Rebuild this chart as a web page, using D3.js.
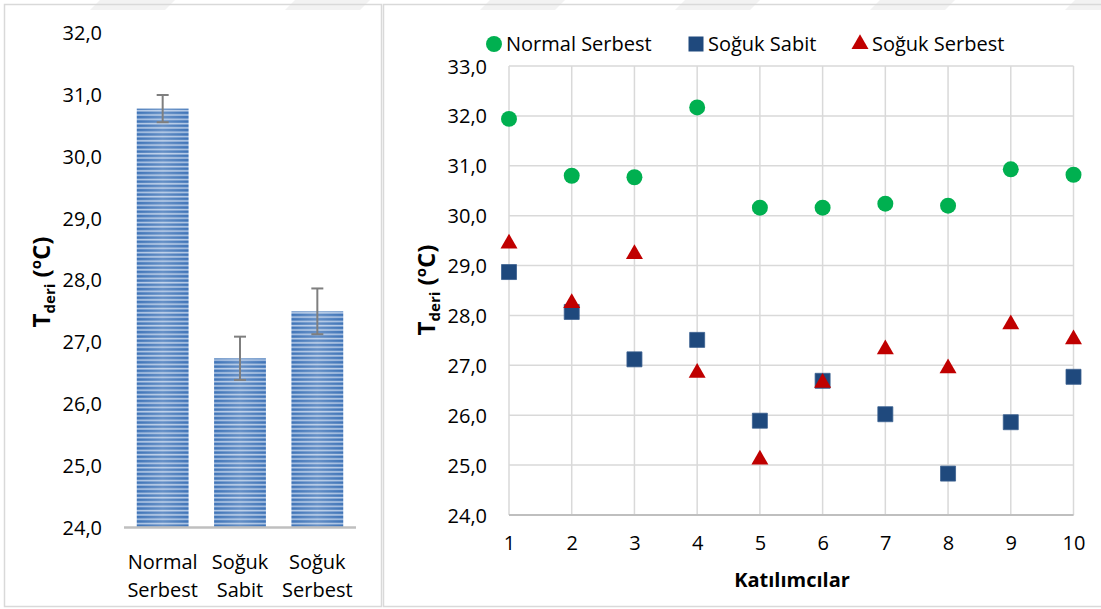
<!DOCTYPE html>
<html>
<head>
<meta charset="utf-8">
<script src="https://cdn.jsdelivr.net/npm/d3@7"></script>
<style>
  body { margin: 0; background: #fff; }
  svg { font-family: 'Open Sans', sans-serif; }
  .tick text { font-size: 20px; fill: #000; font-family: 'Open Sans', sans-serif; }
</style>
</head>
<body>
<script>
const [W, H] = [1101, 609];

// left panel: mean of each condition with error bars
const conditions = ['Normal Serbest', 'Soğuk Sabit', 'Soğuk Serbest'];
const condLines = [['Normal', 'Serbest'], ['Soğuk', 'Sabit'], ['Soğuk', 'Serbest']];
const means = [30.77, 26.73, 27.49];
const errors = [0.22, 0.35, 0.37];
const barTicks = [24, 25, 26, 27, 28, 29, 30, 31, 32];

// right panel: each participant
const participants = [1, 2, 3, 4, 5, 6, 7, 8, 9, 10];
const normalSerbest = [31.94, 30.80, 30.77, 32.17, 30.16, 30.16, 30.24, 30.20, 30.93, 30.82];
const sogukSabit = [28.87, 28.07, 27.12, 27.51, 25.89, 26.69, 26.02, 24.83, 25.86, 26.77];
const sogukSerbest = [29.44, 28.25, 29.23, 26.85, 25.11, 26.65, 27.32, 26.94, 27.82, 27.52];
const scatterTicks = [24, 25, 26, 27, 28, 29, 30, 31, 32, 33];

const fmt = d => d.toFixed(1).replace('.', ',');

const svg = d3.select('body').append('svg').attr('width', W).attr('height', H);

// faint watermark shapes along the top
svg.append('g').selectAll('path')
  .data(d3.range(0, 1101, 195))
  .enter().append('path')
  .attr('d', d => `M${d + 100},0 L${d + 175},0 L${d + 165},10 L${d + 90},10 Z`)
  .attr('fill', '#f2f2f2');

// panel borders
svg.append('rect').attr('x', 4.5).attr('y', 4.5).attr('width', 377).attr('height', 602)
  .attr('fill', 'none').attr('stroke', '#d9d9d9').attr('stroke-width', 1.5);
svg.append('rect').attr('x', 383.5).attr('y', 4.5).attr('width', 730).attr('height', 602)
  .attr('fill', 'none').attr('stroke', '#d9d9d9').attr('stroke-width', 1.5);

// stripe pattern for the bars
const defs = svg.append('defs');
const grad = defs.append('linearGradient').attr('id', 'shine').attr('x1', 0).attr('x2', 1).attr('y1', 0).attr('y2', 0);
grad.append('stop').attr('offset', '0%').attr('stop-color', '#fff').attr('stop-opacity', 0);
grad.append('stop').attr('offset', '50%').attr('stop-color', '#fff').attr('stop-opacity', 0.2);
grad.append('stop').attr('offset', '100%').attr('stop-color', '#fff').attr('stop-opacity', 0);
const pat = defs.append('pattern').attr('id', 'stripes').attr('patternUnits', 'userSpaceOnUse')
  .attr('width', 10).attr('height', 4.3);
pat.append('rect').attr('width', 10).attr('height', 4.3).attr('fill', '#3f74b8');
pat.append('rect').attr('y', 2.4).attr('width', 10).attr('height', 1.6).attr('fill', '#b3c9e6');

// ---------- left bar chart ----------
const xb = d3.scaleBand().domain(conditions).range([124, 356]).paddingInner(0.33).paddingOuter(0.165);
const yb = d3.scaleLinear().domain([24, 32]).range([527, 32.6]);

svg.append('g').attr('transform', 'translate(102,0)')
  .call(d3.axisLeft(yb).tickValues(barTicks).tickFormat(fmt).tickSize(0).tickPadding(0))
  .call(g => g.select('.domain').remove())
  .selectAll('text').attr('dy', '0.35em');

const bars = svg.append('g').selectAll('g').data(conditions).enter().append('g');
bars.append('rect')
  .attr('x', d => xb(d)).attr('width', xb.bandwidth())
  .attr('y', (d, i) => yb(means[i])).attr('height', (d, i) => yb(24) - yb(means[i]))
  .attr('fill', 'url(#stripes)');
bars.append('rect')
  .attr('x', d => xb(d)).attr('width', xb.bandwidth())
  .attr('y', (d, i) => yb(means[i])).attr('height', (d, i) => yb(24) - yb(means[i]))
  .attr('fill', 'url(#shine)');

svg.append('line').attr('x1', 124).attr('x2', 356).attr('y1', 527.5).attr('y2', 527.5)
  .attr('stroke', '#bfbfbf').attr('stroke-width', 2.5);

const err = svg.append('g').attr('stroke', '#7f7f7f').attr('stroke-width', 2);
conditions.forEach((c, i) => {
  const cx = xb(c) + xb.bandwidth() / 2;
  const top = yb(means[i] + errors[i]), bot = yb(means[i] - errors[i]);
  err.append('line').attr('x1', cx).attr('x2', cx).attr('y1', top).attr('y2', bot);
  err.append('line').attr('x1', cx - 6).attr('x2', cx + 6).attr('y1', top).attr('y2', top);
  err.append('line').attr('x1', cx - 6).attr('x2', cx + 6).attr('y1', bot).attr('y2', bot);
});

const catText = svg.append('g').selectAll('text').data(conditions).enter().append('text')
  .attr('text-anchor', 'middle').attr('font-size', 20);
catText.append('tspan').attr('x', d => xb(d) + xb.bandwidth() / 2).attr('y', 569)
  .text((d, i) => condLines[i][0]);
catText.append('tspan').attr('x', d => xb(d) + xb.bandwidth() / 2).attr('y', 597)
  .text((d, i) => condLines[i][1]);

const yTitle = (x, y) => {
  const t = svg.append('text').attr('transform', `translate(${x},${y}) rotate(-90)`)
    .attr('text-anchor', 'middle').attr('font-weight', 'bold').attr('font-size', 24);
  t.append('tspan').text('T');
  t.append('tspan').attr('font-size', 15).attr('dy', 5).text('deri');
  t.append('tspan').attr('dy', -5).text(' (');
  t.append('tspan').attr('font-size', 15).attr('dy', -9).text('o');
  t.append('tspan').attr('dy', 9).text('C)');
};
yTitle(50, 282);

// ---------- right scatter chart ----------
const xs = d3.scaleLinear().domain([1, 10]).range([509, 1073.5]);
const ys = d3.scaleLinear().domain([24, 33]).range([515, 66]);

const grid = svg.append('g').attr('stroke', '#d9d9d9').attr('stroke-width', 1.5);
grid.selectAll('.h').data(scatterTicks).enter().append('line')
  .attr('x1', xs(1)).attr('x2', xs(10)).attr('y1', d => ys(d)).attr('y2', d => ys(d));
grid.selectAll('.v').data(participants).enter().append('line')
  .attr('x1', d => xs(d)).attr('x2', d => xs(d)).attr('y1', ys(24)).attr('y2', ys(33));
svg.append('line').attr('x1', xs(1)).attr('x2', xs(10)).attr('y1', ys(24)).attr('y2', ys(24))
  .attr('stroke', '#bfbfbf').attr('stroke-width', 2);

svg.append('g').attr('transform', 'translate(487,0)')
  .call(d3.axisLeft(ys).tickValues(scatterTicks).tickFormat(fmt).tickSize(0).tickPadding(0))
  .call(g => g.select('.domain').remove())
  .selectAll('text').attr('dy', '0.35em');

svg.append('g').attr('transform', 'translate(0,536)')
  .call(d3.axisBottom(xs).tickValues(participants).tickFormat(d3.format('d')).tickSize(0).tickPadding(0))
  .call(g => g.select('.domain').remove());

svg.append('text').attr('x', 792).attr('y', 587).attr('text-anchor', 'middle')
  .attr('font-weight', 'bold').attr('font-size', 20).text('Katılımcılar');

yTitle(435, 290);

const green = '#00b050', blue = '#1f497d', red = '#c00000';
const sym = {
  circle: d3.symbol().type(d3.symbolCircle).size(200),
  square: d3.symbol().type(d3.symbolSquare).size(225),
  triangle: d3.symbol().type(d3.symbolTriangle).size(125)
};

const series = [
  { name: 'Normal Serbest', values: normalSerbest, color: green, shape: 'circle' },
  { name: 'Soğuk Sabit', values: sogukSabit, color: blue, shape: 'square' },
  { name: 'Soğuk Serbest', values: sogukSerbest, color: red, shape: 'triangle' }
];

series.forEach(s => {
  svg.append('g').selectAll('path').data(s.values).enter().append('path')
    .attr('transform', (d, i) => `translate(${xs(participants[i])},${ys(d)})`)
    .attr('d', sym[s.shape]())
    .attr('fill', s.color)
    .attr('stroke', s.shape === 'square' ? '#3a5f8f' : 'none')
    .attr('stroke-width', 0.8)
    .attr('stroke-linejoin', 'round');
});

// legend
const legX = [494, 696, 860];
const leg = svg.append('g').selectAll('g').data(series).enter().append('g')
  .attr('transform', (d, i) => `translate(${legX[i]},44)`);
leg.append('path').attr('d', d => sym[d.shape]()).attr('fill', d => d.color);
leg.append('text').attr('x', 12).attr('dy', '0.35em').attr('font-size', 20).text(d => d.name);
</script>
</body>
</html>
